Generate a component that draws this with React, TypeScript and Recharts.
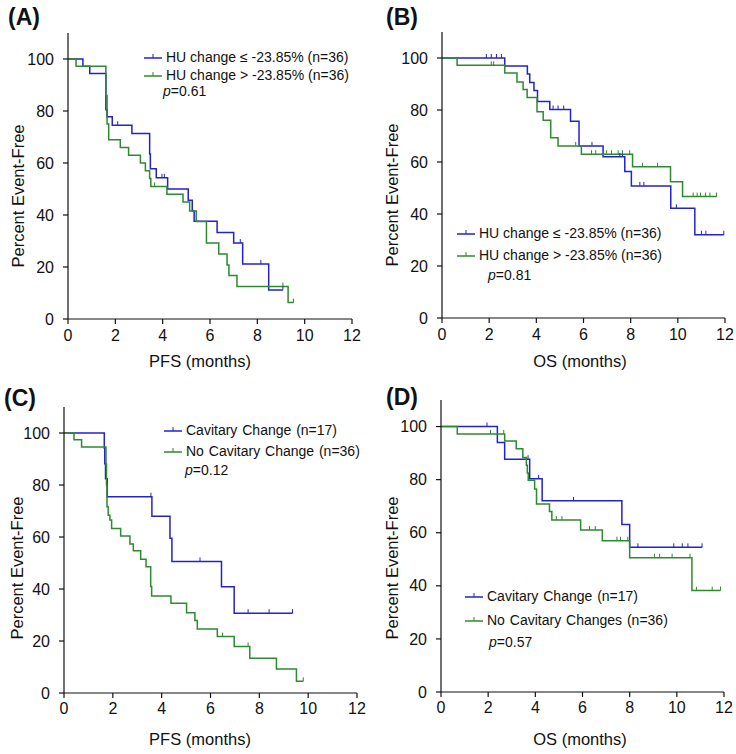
import { LineChart, Line, XAxis, YAxis } from 'recharts'

const X_TICKS = [0, 2, 4, 6, 8, 10, 12]
const Y_TICKS = [0, 20, 40, 60, 80, 100]
const BLUE = '#2222d0'
const GREEN = '#2e8a2e'
const FONT = '"Liberation Sans", Arial, sans-serif'

// (A) PFS, HU change <= -23.85% vs > -23.85%
const aLowT = [0, 0.63, 0.92, 1.6, 1.65, 1.87, 2.7, 3.45, 3.48, 3.73, 4.21, 5.08, 5.25, 5.33, 6.3, 7.0, 7.38, 8.48]
const aLowS = [100, 97.2, 94.4, 80.5, 77.8, 74.5, 71.3, 63.5, 57.8, 54.3, 50.0, 45.7, 41.5, 37.6, 33.3, 29.2, 21.2, 11.2]
const aLowCens = [2.1, 3.97, 4.07, 7.28, 8.15, 9.08]
const aHighT = [0, 0.34, 1.6, 1.65, 1.72, 2.21, 2.56, 3.06, 3.27, 3.45, 3.5, 4.18, 4.86, 5.14, 5.42, 5.85, 6.37, 6.72, 6.8, 7.14, 9.3]
const aHighS = [100, 97.2, 86, 75, 68.9, 66.0, 63.0, 60.0, 57.0, 54.0, 51.0, 48.0, 45.0, 41.5, 37.5, 29.2, 25.0, 20.8, 16.7, 12.5, 6.3]
const aHighCens = [3.66, 9.08, 9.53]

// (B) OS, HU change
const bLowT = [0, 2.66, 3.62, 3.72, 3.9, 4.05, 4.57, 5.45, 5.81, 6.83, 7.75, 8.03, 9.7, 10.72]
const bLowS = [100, 96.9, 93.8, 90.6, 87.5, 83.3, 80.2, 75.7, 66.2, 62.0, 56.3, 50.8, 42.2, 32.0]
const bLowCens = [1.88, 2.09, 2.31, 2.52, 4.71, 4.92, 5.16, 6.36, 7.54, 7.65, 8.39, 8.56, 9.94, 11.0, 11.19, 11.95]
const bHighT = [0, 0.64, 2.66, 3.18, 3.44, 3.61, 4.03, 4.29, 4.61, 4.92, 5.91, 8.08, 9.69, 10.2]
const bHighS = [100, 97.2, 94.2, 90.8, 87.9, 84.8, 79.3, 76.1, 69.3, 66.2, 63.0, 58.2, 52.4, 46.7]
const bHighCens = [2.09, 2.19, 5.67, 6.34, 6.52, 6.97, 7.19, 7.47, 7.65, 7.96, 8.5, 9.14, 10.65, 10.82, 10.96, 11.17, 11.36, 11.64]

// (C) PFS, cavitary change
const cCavT = [0, 1.65, 1.67, 1.7, 1.77, 3.6, 4.34, 4.42, 6.45, 6.97]
const cCavS = [100, 94.1, 88.2, 82.4, 75.5, 68.0, 59.5, 50.6, 40.9, 30.7]
const cCavCens = [3.56, 5.57, 7.54, 8.4, 9.36]
const cNoT = [0, 0.41, 0.72, 1.72, 1.74, 1.76, 1.81, 1.88, 1.95, 2.32, 2.7, 2.84, 3.14, 3.36, 3.55, 3.59, 4.38, 5.02, 5.36, 5.46, 6.28, 6.97, 7.61, 8.7, 9.52]
const cNoS = [100, 97.4, 94.6, 88, 80, 71.6, 68.4, 66.5, 63.3, 60.4, 57.3, 54.7, 51.4, 48.6, 41, 37.3, 34.5, 30.9, 27.9, 24.6, 21.7, 17.9, 13.4, 9.2, 4.5]
const cNoCens = [6.49, 7.54, 9.8]

// (D) OS, cavitary change
const dCavT = [0, 2.39, 2.7, 3.76, 4.29, 7.67, 8.0]
const dCavS = [100, 94.0, 87.7, 80.3, 72.0, 63.1, 54.5]
const dCavCens = [1.95, 3.69, 4.14, 5.62, 8.35, 9.87, 10.23, 10.47, 11.07]
const dNoT = [0, 0.69, 2.7, 3.19, 3.47, 3.62, 3.66, 3.7, 3.97, 4.05, 4.6, 4.7, 5.92, 6.84, 8.0, 10.64]
const dNoS = [100, 97.2, 94.6, 91.6, 88.3, 85.4, 82.5, 79.8, 76.5, 70.8, 68, 64.8, 61.0, 57.0, 50.6, 38.2]
const dNoCens = [2.1, 2.66, 4.89, 5.13, 6.3, 6.54, 7.46, 7.61, 7.92, 9.05, 9.27, 9.8, 10.56, 10.83, 11.5, 11.85]

interface KMPoint {
  t: number
  s: number
  c: boolean
}

function buildKM(times: number[], surv: number[], cens: number[]): KMPoint[] {
  const pts: KMPoint[] = times.map((t, i) => ({ t, s: surv[i], c: false }))
  cens.forEach((ct) => {
    let s = surv[0]
    times.forEach((t, i) => {
      if (t <= ct) s = surv[i]
    })
    pts.push({ t: ct, s, c: true })
  })
  return pts.sort((a, b) => a.t - b.t || Number(a.c) - Number(b.c))
}

// eslint-disable-next-line @typescript-eslint/no-explicit-any
function censorDot(color: string) {
  return (props: any) => {
    const { cx, cy, payload, index } = props
    if (!payload?.c || cx == null || cy == null) return <g key={`n${index}`} />
    return <line key={`c${index}`} x1={cx} x2={cx} y1={cy} y2={cy - 4} stroke={color} strokeWidth={1} />
  }
}

interface Series {
  data: KMPoint[]
  color: string
  label: string
}

interface PanelProps {
  left: number
  top: number
  width: number
  height: number
  yAxisWidth: number
  marginTop: number
  marginRight: number
  xAxisHeight: number
  tickMarginX: number
  series: Series[]
}

function KMPanel({ left, top, width, height, yAxisWidth, marginTop, marginRight, xAxisHeight, tickMarginX, series }: PanelProps) {
  const tick = { fill: '#111', fontSize: 16, fontFamily: FONT }
  return (
    <div style={{ position: 'absolute', left, top }}>
      <LineChart width={width} height={height} margin={{ top: marginTop, right: marginRight, left: 0, bottom: 0 }}>
        <XAxis
          dataKey="t"
          type="number"
          domain={[0, 12]}
          ticks={X_TICKS}
          allowDataOverflow
          height={xAxisHeight}
          tick={tick}
          tickSize={5}
          tickMargin={tickMarginX}
          stroke="#111"
          strokeWidth={1.2}
        />
        <YAxis
          type="number"
          domain={[0, 110]}
          ticks={Y_TICKS}
          allowDataOverflow
          width={yAxisWidth}
          tick={tick}
          tickSize={5}
          tickMargin={9}
          stroke="#111"
          strokeWidth={1.2}
        />
        {series.map((s) => (
          <Line
            key={s.label}
            data={s.data}
            dataKey="s"
            type="stepAfter"
            stroke={s.color}
            strokeWidth={1.5}
            dot={censorDot(s.color)}
            activeDot={false}
            isAnimationActive={false}
          />
        ))}
      </LineChart>
    </div>
  )
}

function Legend({ x, y, gap, items, p, px, py, fontSize, wordSpacing }: {
  x: number
  y: number
  gap: number
  items: Series[]
  p: string
  px: number
  py: number
  fontSize: number
  wordSpacing: number
}) {
  return (
    <>
      {items.map((it, i) => (
        <div
          key={it.label}
          style={{
            position: 'absolute',
            left: x,
            top: y + i * gap,
            transform: 'translateY(-50%)',
            display: 'flex',
            alignItems: 'center',
            whiteSpace: 'nowrap',
            fontSize,
            wordSpacing,
            color: '#111',
          }}
        >
          <svg width={20} height={10} style={{ marginRight: 3 }}>
            <line x1={1} x2={19} y1={6} y2={6} stroke={it.color} strokeWidth={1.5} />
            <line x1={10} x2={10} y1={6} y2={2} stroke={it.color} strokeWidth={1} />
          </svg>
          <span>{it.label}</span>
        </div>
      ))}
      <div
        style={{
          position: 'absolute',
          left: px,
          top: py,
          transform: 'translateY(-50%)',
          fontSize,
          whiteSpace: 'nowrap',
          color: '#111',
        }}
      >
        <i>p</i>={p}
      </div>
    </>
  )
}

function Text({ x, y, text, size, bold, rotate }: { x: number; y: number; text: string; size: number; bold?: boolean; rotate?: boolean }) {
  return (
    <div
      style={{
        position: 'absolute',
        left: x,
        top: y,
        transform: `translate(-50%, -50%)${rotate ? ' rotate(-90deg)' : ''}`,
        fontSize: size,
        fontWeight: bold ? 700 : 400,
        whiteSpace: 'nowrap',
        color: '#111',
      }}
    >
      {text}
    </div>
  )
}

export default function App() {
  const aSeries: Series[] = [
    { data: buildKM(aLowT, aLowS, aLowCens), color: BLUE, label: 'HU change ≤ -23.85% (n=36)' },
    { data: buildKM(aHighT, aHighS, aHighCens), color: GREEN, label: 'HU change > -23.85% (n=36)' },
  ]
  const bSeries: Series[] = [
    { data: buildKM(bLowT, bLowS, bLowCens), color: BLUE, label: 'HU change ≤ -23.85% (n=36)' },
    { data: buildKM(bHighT, bHighS, bHighCens), color: GREEN, label: 'HU change > -23.85% (n=36)' },
  ]
  const cSeries: Series[] = [
    { data: buildKM(cCavT, cCavS, cCavCens), color: BLUE, label: 'Cavitary Change (n=17)' },
    { data: buildKM(cNoT, cNoS, cNoCens), color: GREEN, label: 'No Cavitary Change (n=36)' },
  ]
  const dSeries: Series[] = [
    { data: buildKM(dCavT, dCavS, dCavCens), color: BLUE, label: 'Cavitary Change (n=17)' },
    { data: buildKM(dNoT, dNoS, dNoCens), color: GREEN, label: 'No Cavitary Changes (n=36)' },
  ]

  return (
    <div style={{ position: 'absolute', left: 0, top: 0, width: 736, height: 754, background: '#fff', fontFamily: FONT }}>
      <KMPanel left={0} top={0} width={368} height={378} yAxisWidth={68} marginTop={33} marginRight={16} xAxisHeight={59} tickMarginX={6} series={aSeries} />
      <KMPanel left={368} top={0} width={368} height={378} yAxisWidth={74} marginTop={32} marginRight={11} xAxisHeight={60} tickMarginX={6} series={bSeries} />
      <KMPanel left={0} top={378} width={368} height={376} yAxisWidth={64} marginTop={29} marginRight={11} xAxisHeight={61} tickMarginX={5} series={cSeries} />
      <KMPanel left={368} top={378} width={368} height={376} yAxisWidth={73} marginTop={22} marginRight={12} xAxisHeight={62} tickMarginX={5} series={dSeries} />

      <Text x={24} y={17} text="(A)" size={23} bold />
      <Text x={402} y={17} text="(B)" size={23} bold />
      <Text x={20} y={398} text="(C)" size={23} bold />
      <Text x={402} y={397} text="(D)" size={23} bold />

      <Text x={17.5} y={196} text="Percent Event-Free" size={16.5} rotate />
      <Text x={392} y={195} text="Percent Event-Free" size={16.5} rotate />
      <Text x={17} y={568} text="Percent Event-Free" size={16.5} rotate />
      <Text x={392} y={568} text="Percent Event-Free" size={16.5} rotate />

      <Text x={200} y={361} text="PFS (months)" size={16.5} />
      <Text x={580} y={361} text="OS (months)" size={16.5} />
      <Text x={200} y={739} text="PFS (months)" size={16.5} />
      <Text x={580} y={739} text="OS (months)" size={16.5} />

      <Legend x={143} y={57} gap={18} items={aSeries} p="0.61" px={163} py={91} fontSize={14} wordSpacing={0} />
      <Legend x={456} y={233} gap={22} items={bSeries} p="0.81" px={488} py={275} fontSize={14} wordSpacing={0} />
      <Legend x={163} y={430} gap={21} items={cSeries} p="0.12" px={185} py={470} fontSize={14} wordSpacing={1} />
      <Legend x={464} y={596} gap={24} items={dSeries} p="0.57" px={489} py={642} fontSize={14} wordSpacing={1} />
    </div>
  )
}
